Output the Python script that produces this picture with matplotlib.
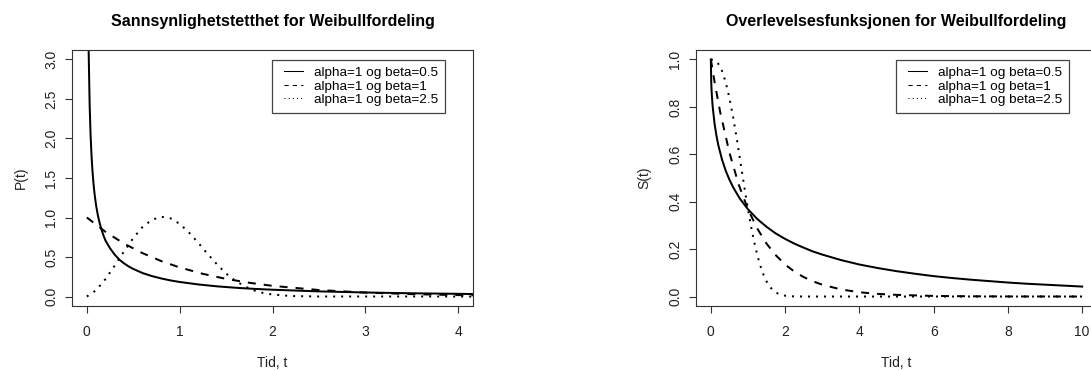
import matplotlib
matplotlib.use('Agg')
import matplotlib.pyplot as plt
import numpy as np
from matplotlib.lines import Line2D
from matplotlib.legend_handler import HandlerLine2D

plt.rcParams['font.family'] = ['Liberation Sans', 'DejaVu Sans']

# --- data ---
# tetthet (venstre panel)
t_b05 = [0.01, 0.02, 0.03, 0.04, 0.05, 0.06, 0.07, 0.08, 0.09, 0.10, 0.12, 0.14,
         0.16, 0.18, 0.20, 0.25, 0.30, 0.35, 0.40, 0.45, 0.50, 0.60, 0.70, 0.80,
         0.90, 1.00, 1.20, 1.40, 1.60, 1.80, 2.00, 2.50, 3.00, 3.50, 4.00, 4.20]
p_b05 = [4.52, 3.07, 2.43, 2.05, 1.79, 1.60, 1.45, 1.33, 1.235, 1.15, 1.02, 0.92,
         0.84, 0.77, 0.71, 0.61, 0.53, 0.467, 0.42, 0.381, 0.349, 0.297, 0.259,
         0.229, 0.204, 0.184, 0.153, 0.129, 0.111, 0.097, 0.086, 0.065, 0.051,
         0.041, 0.034, 0.031]

t_b1 = [0.0, 0.2, 0.4, 0.6, 0.8, 1.0, 1.25, 1.5, 1.75, 2.0, 2.5, 3.0, 3.5, 4.0, 4.2]
p_b1 = [1.0, 0.819, 0.670, 0.549, 0.449, 0.368, 0.287, 0.223, 0.174, 0.135,
        0.082, 0.05, 0.03, 0.018, 0.015]

t_b25 = [0.0, 0.1, 0.2, 0.3, 0.4, 0.5, 0.6, 0.7, 0.8, 0.9, 1.0, 1.1, 1.2, 1.3,
         1.4, 1.5, 1.6, 1.7, 1.8, 1.9, 2.0, 2.2, 2.5, 3.0, 4.2]
p_b25 = [0.0, 0.08, 0.22, 0.39, 0.57, 0.74, 0.88, 0.97, 1.01, 0.99, 0.92, 0.81,
         0.68, 0.54, 0.41, 0.29, 0.20, 0.13, 0.078, 0.045, 0.025, 0.006, 0.0, 0.0, 0.0]

# overlevelse (hoyre panel)
ts_b05 = [0.0, 0.01, 0.02, 0.03, 0.05, 0.1, 0.15, 0.2, 0.3, 0.4, 0.5, 0.6, 0.75,
          0.8, 1.0, 1.25, 1.5, 1.75, 2.0, 2.25, 2.5, 2.75, 3.0, 3.5, 4.0, 4.5,
          5.0, 5.5, 6.0, 6.5, 7.0, 7.5, 8.0, 8.5, 9.0, 9.5, 10.0]
s_b05 = [1.0, 0.905, 0.868, 0.841, 0.800, 0.729, 0.679, 0.639, 0.578, 0.531,
         0.493, 0.461, 0.421, 0.409, 0.368, 0.327, 0.294, 0.266, 0.243, 0.223,
         0.206, 0.190, 0.177, 0.154, 0.135, 0.120, 0.107, 0.096, 0.086, 0.078,
         0.071, 0.065, 0.059, 0.054, 0.050, 0.046, 0.042]

ts_b1 = [0.0, 0.1, 0.25, 0.5, 0.75, 1.0, 1.25, 1.5, 1.75, 2.0, 2.25, 2.5, 2.75,
         3.0, 3.5, 4.0, 4.5, 5.0, 6.0, 7.0, 8.0, 10.0]
s_b1 = [1.0, 0.905, 0.779, 0.607, 0.472, 0.368, 0.287, 0.223, 0.174, 0.135,
        0.105, 0.082, 0.064, 0.05, 0.03, 0.018, 0.011, 0.007, 0.0025, 0.001,
        0.0003, 0.0]

ts_b25 = [0.0, 0.1, 0.2, 0.3, 0.4, 0.5, 0.6, 0.7, 0.8, 0.9, 1.0, 1.1, 1.2, 1.3,
          1.4, 1.5, 1.6, 1.7, 1.8, 1.9, 2.0, 2.2, 2.5, 10.0]
s_b25 = [1.0, 0.997, 0.982, 0.952, 0.904, 0.838, 0.757, 0.664, 0.564, 0.464,
         0.368, 0.281, 0.207, 0.146, 0.098, 0.064, 0.039, 0.023, 0.013, 0.007,
         0.0035, 0.0008, 0.0, 0.0]

legend_labels = ['alpha=1 og beta=0.5', 'alpha=1 og beta=1', 'alpha=1 og beta=2.5']

lw = 1.44
styles = [dict(linestyle='-'),
          dict(linestyle=(0, (4, 4))),
          dict(linestyle=(0, (1, 3)))]


class RightLine(HandlerLine2D):
    # legendelinjen bare i hoyre del av handle-boksen (R-stil, luft til venstre)
    seg = 13.5

    def create_artists(self, legend, orig_handle, xdescent, ydescent, width,
                       height, fontsize, trans):
        arts = super().create_artists(legend, orig_handle, xdescent, ydescent,
                                      width, height, fontsize, trans)
        for a in arts:
            x = np.asarray(a.get_xdata(), dtype=float)
            if len(x) >= 2:
                a.set_xdata(np.linspace(x[-1] - self.seg, x[-1], len(x)))
        return arts


W, H = 1091, 371
fig = plt.figure(figsize=(W / 100, H / 100), dpi=100)
ax1 = fig.add_axes([72 / W, 65 / H, 401 / W, 256 / H])
ax2 = fig.add_axes([696 / W, 65 / H, 401 / W, 256 / H])


def style_axes(ax, title, ylabel):
    for sp in ax.spines.values():
        sp.set_linewidth(0.8)
        sp.set_color('#333333')
    ax.tick_params(direction='out', length=5, width=0.8, color='#333333',
                   labelsize=10, labelcolor='#222222')
    ax.tick_params(axis='x', pad=9)
    ax.tick_params(axis='y', pad=5)
    for lab in ax.get_yticklabels():
        lab.set_rotation(90)
        lab.set_va('center')
    ax.set_title(title, fontsize=11.5, fontweight='bold', pad=17)
    ax.set_xlabel('Tid, t', fontsize=10, color='#222222', labelpad=12)
    ax.set_ylabel(ylabel, fontsize=10, color='#222222', labelpad=12)
    handles = [Line2D([], [], color='black', lw=0.75, **s) for s in styles]
    leg = ax.legend(handles, legend_labels, loc='upper right',
                    bbox_to_anchor=(0.93, 0.961), borderaxespad=0,
                    fontsize=9.7, handlelength=1.85, handletextpad=0.8,
                    labelspacing=0.08, borderpad=0.5, fancybox=False,
                    framealpha=1, handler_map={Line2D: RightLine()})
    leg.get_frame().set_edgecolor('#444444')
    leg.get_frame().set_linewidth(0.9)


# venstre: sannsynlighetstetthet
ax1.plot(t_b05, p_b05, color='black', lw=lw, **styles[0])
ax1.plot(t_b1, p_b1, color='black', lw=lw, **styles[1])
ax1.plot(t_b25, p_b25, color='black', lw=lw, **styles[2])
ax1.set_xlim(-0.16, 4.16)
ax1.set_ylim(-0.12, 3.12)
ax1.set_xticks([0, 1, 2, 3, 4])
ax1.set_yticks([0, 0.5, 1.0, 1.5, 2.0, 2.5, 3.0])
ax1.set_yticklabels(['0.0', '0.5', '1.0', '1.5', '2.0', '2.5', '3.0'])
style_axes(ax1, 'Sannsynlighetstetthet for Weibullfordeling', 'P(t)')

# hoyre: overlevelsesfunksjon
ax2.plot(ts_b05, s_b05, color='black', lw=lw, **styles[0])
ax2.plot(ts_b1, s_b1, color='black', lw=lw, **styles[1])
ax2.plot(ts_b25, s_b25, color='black', lw=lw, **styles[2])
ax2.set_xlim(-0.4, 10.4)
ax2.set_ylim(-0.04, 1.04)
ax2.set_xticks([0, 2, 4, 6, 8, 10])
ax2.set_yticks([0, 0.2, 0.4, 0.6, 0.8, 1.0])
ax2.set_yticklabels(['0.0', '0.2', '0.4', '0.6', '0.8', '1.0'])
style_axes(ax2, 'Overlevelsesfunksjonen for Weibullfordeling', 'S(t)')

fig.savefig('out.png', dpi=100)
